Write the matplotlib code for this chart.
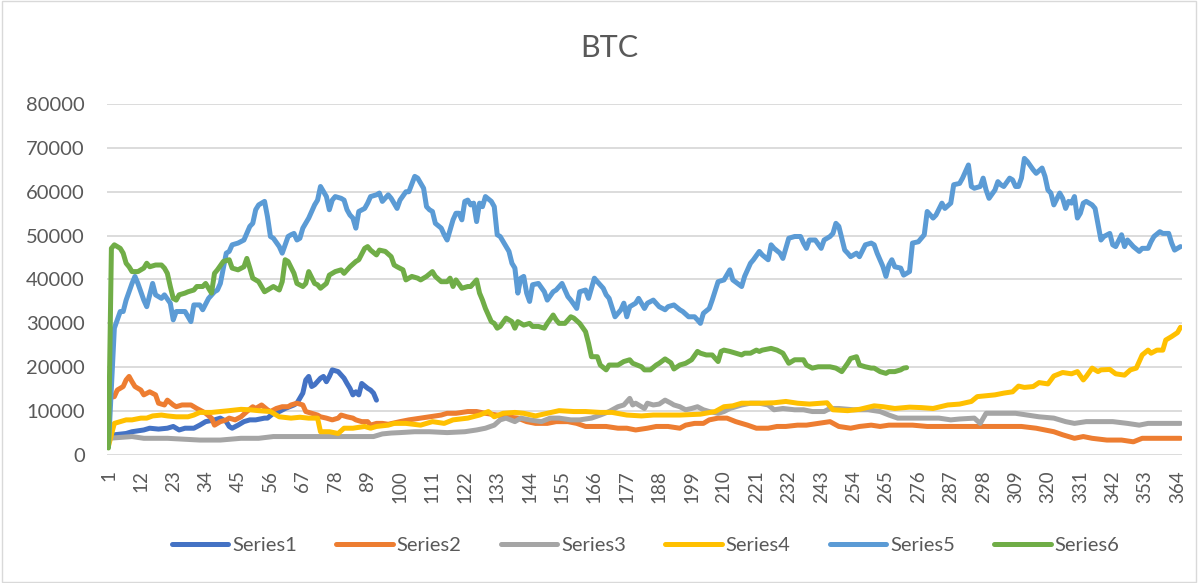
import numpy as np
import matplotlib.pyplot as plt

# (day, value) pairs
series1 = [(1, 4300), (3, 4600), (7, 4900), (9, 5300), (13, 5700), (15, 6100), (18, 5900), (21, 6100),
           (23, 6500), (25, 5700), (27, 6100), (30, 6100), (32, 6800), (34, 7600), (37, 8000), (39, 8400),
           (41, 7600), (42, 6500), (43, 6100), (45, 6800), (47, 7600), (49, 8000), (51, 8000), (54, 8400),
           (55, 8400), (57, 9500), (59, 9900), (61, 10600), (64, 11400), (65, 11800), (67, 14100),
           (68, 17100), (69, 17900), (70, 15600), (71, 16000), (73, 17500), (74, 17900), (75, 16700),
           (76, 17900), (77, 19400), (79, 19000), (81, 17500), (82, 16300), (83, 15200), (84, 13700),
           (85, 14400), (86, 13700), (87, 16300), (89, 15200), (90, 14800), (91, 14100), (92, 12500)]

series2 = [(1, 13000), (3, 13300), (4, 14800), (6, 15600), (7, 17100), (8, 17900), (9, 16700),
           (10, 15600), (12, 14800), (13, 13700), (15, 14400), (17, 13700), (18, 11800), (20, 11400),
           (21, 12500), (23, 11400), (24, 11000), (26, 11400), (29, 11400), (31, 10600), (33, 9900),
           (34, 9500), (36, 8400), (37, 6800), (39, 7600), (41, 8000), (42, 8400), (44, 8000),
           (46, 8700), (48, 9900), (50, 11000), (51, 10600), (53, 11400), (55, 10300), (56, 9900),
           (58, 10600), (60, 11000), (62, 11000), (63, 11400), (65, 11800), (67, 11400), (68, 9900),
           (70, 9500), (72, 9100), (73, 8700), (75, 8400), (77, 8000), (79, 8400), (80, 9100),
           (82, 8700), (84, 8400), (85, 8000), (87, 7600), (89, 7600), (90, 6800), (92, 7200),
           (94, 7200), (96, 7000), (100, 7600), (103, 8000), (107, 8400), (110, 8700), (114, 9100),
           (116, 9500), (119, 9500), (123, 9900), (126, 9900), (129, 9500), (133, 9100), (136, 8700),
           (140, 8400), (143, 7600), (146, 7200), (150, 7200), (153, 7600), (157, 7600), (160, 7200),
           (163, 6500), (167, 6500), (170, 6500), (174, 6100), (177, 6100), (180, 5700), (184, 6100),
           (187, 6500), (191, 6500), (195, 6100), (197, 6800), (200, 7200), (203, 7200), (205, 8000),
           (208, 8400), (211, 8400), (214, 7600), (218, 6800), (221, 6100), (225, 6100), (228, 6500),
           (231, 6500), (235, 6800), (238, 6800), (242, 7200), (246, 7600), (249, 6500), (253, 6100),
           (256, 6500), (260, 6800), (263, 6500), (266, 6800), (270, 6800), (274, 6800), (279, 6500),
           (283, 6500), (290, 6500), (297, 6500), (304, 6500), (311, 6500), (316, 6100), (319, 5700),
           (322, 5300), (325, 4600), (329, 3800), (332, 4200), (335, 3800), (340, 3400), (345, 3400),
           (349, 3000), (352, 3800), (357, 3800), (360, 3800), (365, 3800)]

series3 = [(1, 3800), (9, 4200), (13, 3800), (21, 3800), (32, 3400), (39, 3400), (46, 3800), (52, 3800),
           (57, 4200), (66, 4200), (75, 4200), (84, 4200), (91, 4200), (94, 4800), (97, 5000),
           (100, 5100), (105, 5300), (110, 5300), (116, 5100), (122, 5300), (126, 5700), (129, 6100),
           (132, 6800), (134, 8000), (136, 8400), (139, 7600), (141, 8400), (144, 8000), (148, 7600),
           (151, 8400), (154, 8400), (158, 8000), (161, 8000), (165, 8400), (168, 9100), (171, 9900),
           (174, 11000), (176, 11400), (178, 12900), (179, 11400), (180, 11800), (183, 10600),
           (184, 11800), (186, 11400), (188, 11600), (190, 12500), (192, 11800), (193, 11400),
           (195, 11000), (197, 10300), (199, 10600), (201, 11000), (203, 10300), (205, 9900),
           (208, 9500), (210, 9900), (212, 10600), (216, 11400), (219, 11800), (222, 11800),
           (225, 11400), (227, 10300), (230, 10600), (234, 10300), (237, 10300), (240, 9900),
           (244, 9900), (246, 10600), (249, 10600), (254, 10300), (259, 10300), (263, 9900), (266, 9100),
           (269, 8400), (273, 8400), (279, 8400), (283, 8400), (287, 8000), (290, 8200), (295, 8400),
           (297, 7200), (299, 9500), (304, 9500), (309, 9500), (313, 9100), (317, 8700), (322, 8400),
           (326, 7600), (329, 7200), (333, 7600), (338, 7600), (342, 7600), (347, 7200), (351, 6800),
           (354, 7200), (358, 7200), (365, 7200)]

series4 = [(1, 2000), (3, 7200), (5, 7600), (7, 8000), (9, 8000), (12, 8400), (14, 8400), (16, 8900),
           (19, 9100), (21, 8900), (24, 8700), (28, 8700), (30, 9100), (32, 9700), (36, 9700), (39, 9900),
           (42, 10100), (46, 10400), (49, 10300), (52, 10100), (56, 9900), (59, 8700), (63, 8400),
           (66, 8600), (69, 8400), (72, 8400), (73, 5300), (76, 5300), (79, 4900), (81, 6100), (84, 6100),
           (88, 6500), (90, 6100), (92, 6500), (96, 6800), (98, 7200), (102, 7200), (107, 6800),
           (111, 7600), (115, 7200), (118, 8000), (123, 8400), (127, 9100), (130, 9900), (132, 8700),
           (135, 9500), (139, 9700), (142, 9500), (146, 8900), (150, 9500), (154, 10100), (159, 9900),
           (163, 9900), (168, 9700), (172, 9700), (177, 9100), (182, 8900), (186, 9100), (191, 9100),
           (195, 9100), (202, 9300), (207, 9900), (210, 11000), (213, 11200), (216, 11800), (219, 11800),
           (222, 11800), (227, 11900), (231, 12200), (235, 11800), (239, 11600), (245, 11900),
           (247, 10300), (252, 10100), (256, 10400), (261, 11200), (264, 11000), (268, 10600),
           (273, 10900), (277, 10800), (281, 10600), (286, 11400), (290, 11600), (294, 12200),
           (296, 13300), (299, 13500), (302, 13700), (305, 14100), (308, 14400), (310, 15700),
           (312, 15400), (315, 15600), (317, 16500), (320, 16200), (322, 18000), (325, 18800),
           (328, 18500), (330, 19000), (332, 17100), (333, 17900), (335, 19800), (337, 19000),
           (338, 19400), (341, 19500), (343, 18500), (346, 18200), (348, 19400), (350, 19800),
           (352, 22800), (354, 23900), (355, 23200), (357, 23900), (359, 23900), (360, 26200),
           (362, 27000), (364, 27900), (365, 29100)]

series5 = [(1, 2000), (3, 28900), (4, 30800), (5, 32700), (6, 32700), (7, 35300), (9, 39100), (10, 40700),
           (11, 39100), (13, 35300), (14, 33800), (16, 39100), (17, 36500), (19, 35700), (20, 36500),
           (22, 34600), (23, 30800), (24, 32700), (27, 32700), (29, 30400), (30, 34200), (32, 34200),
           (33, 33100), (35, 35700), (37, 37200), (38, 37600), (39, 39100), (41, 46000), (42, 46400),
           (43, 47900), (45, 48300), (47, 49000), (49, 52100), (50, 52800), (51, 55900), (52, 57000),
           (54, 57800), (55, 54300), (56, 49800), (57, 49400), (59, 47500), (60, 46000), (62, 49800),
           (63, 50200), (64, 50500), (65, 49000), (66, 49400), (67, 51700), (69, 54000), (71, 57000),
           (72, 58100), (73, 61200), (75, 58900), (76, 55900), (77, 58100), (78, 58900), (80, 58500),
           (81, 58100), (82, 55900), (83, 54700), (84, 54000), (85, 51700), (86, 55500), (88, 56200),
           (89, 57400), (90, 58900), (92, 59300), (93, 59700), (94, 57800), (96, 59300), (97, 58500),
           (99, 56200), (100, 58100), (102, 60000), (103, 60000), (105, 63500), (106, 63100),
           (108, 60800), (109, 56600), (110, 55900), (111, 55500), (112, 52800), (114, 51700),
           (115, 50200), (116, 49000), (118, 53600), (119, 55100), (120, 55100), (121, 53600),
           (122, 57800), (123, 58100), (124, 57000), (125, 57400), (126, 53200), (127, 57400),
           (128, 56600), (129, 58900), (131, 57800), (132, 56600), (133, 50200), (134, 49800),
           (136, 47500), (137, 46400), (138, 43700), (139, 42600), (140, 36900), (141, 40300),
           (142, 40700), (143, 36900), (144, 35000), (145, 38800), (147, 39100), (149, 37200),
           (150, 35300), (152, 37200), (153, 37600), (155, 39100), (157, 36100), (158, 35300),
           (160, 33400), (161, 37200), (163, 37600), (164, 35700), (166, 40300), (167, 39500),
           (169, 38000), (170, 36500), (171, 35700), (173, 31500), (175, 33100), (176, 34600),
           (177, 31500), (178, 33800), (180, 34600), (181, 35700), (183, 33400), (184, 34600),
           (186, 35300), (188, 33800), (190, 33100), (191, 33800), (193, 34200), (195, 33100),
           (196, 32700), (198, 31500), (200, 31500), (201, 30800), (202, 30000), (203, 32300),
           (205, 33400), (206, 35300), (208, 39500), (210, 39900), (212, 42200), (213, 39900),
           (216, 38400), (217, 40700), (219, 43700), (220, 44500), (222, 46400), (223, 45600),
           (225, 44500), (226, 47900), (227, 47100), (229, 46000), (230, 44800), (231, 47100),
           (232, 49400), (234, 49800), (236, 49800), (237, 48300), (238, 47100), (239, 49000),
           (241, 49000), (243, 47100), (244, 49000), (246, 49800), (247, 50500), (248, 52800),
           (249, 52100), (251, 46700), (252, 46000), (253, 45200), (255, 46000), (256, 45200),
           (258, 47900), (260, 48300), (261, 47900), (262, 46000), (264, 42900), (265, 40700),
           (266, 43300), (267, 44500), (268, 42900), (270, 42600), (271, 41000), (273, 41800),
           (274, 48300), (276, 48600), (278, 50200), (279, 55500), (281, 54000), (282, 54700),
           (284, 57400), (285, 56200), (287, 57400), (288, 61600), (290, 61900), (291, 63100),
           (293, 66100), (294, 61200), (295, 60800), (297, 61200), (298, 63100), (299, 60400),
           (300, 58500), (302, 60400), (303, 62300), (304, 61600), (305, 61200), (307, 63100),
           (308, 62700), (309, 61200), (310, 61200), (311, 63100), (312, 67600), (313, 66900),
           (315, 65000), (316, 64200), (318, 65400), (319, 63500), (320, 60400), (321, 59700),
           (322, 57000), (324, 59700), (325, 58500), (326, 56200), (327, 57800), (328, 57400),
           (329, 58900), (330, 54000), (331, 55100), (332, 57400), (333, 57800), (335, 57000),
           (336, 56200), (338, 49000), (339, 49800), (341, 50500), (342, 47900), (343, 47500),
           (345, 50200), (346, 47500), (347, 49000), (349, 47500), (351, 46400), (352, 47100),
           (354, 47100), (355, 48600), (356, 49800), (358, 50900), (359, 50500), (361, 50500),
           (362, 48300), (363, 46700), (365, 47500)]

series6 = [(1, 1600), (2, 47100), (3, 47900), (5, 47100), (6, 46000), (7, 43700), (8, 42900), (9, 41800),
           (11, 41800), (13, 42600), (14, 43700), (15, 42900), (17, 43300), (19, 43300), (20, 42600),
           (21, 41400), (22, 38400), (23, 35700), (24, 35300), (25, 36500), (27, 36900), (28, 37200),
           (30, 37600), (31, 38400), (33, 38400), (34, 39100), (36, 36900), (37, 41400), (38, 42200),
           (40, 44100), (42, 44500), (43, 42600), (45, 42200), (47, 42900), (48, 44800), (49, 42600),
           (50, 40300), (52, 39500), (54, 37200), (55, 37600), (57, 38400), (59, 37600), (60, 39500),
           (61, 44500), (62, 44100), (64, 41400), (65, 39100), (67, 38400), (68, 39100), (69, 41800),
           (71, 39100), (72, 38800), (73, 38000), (75, 39100), (76, 41000), (78, 41800), (80, 42200),
           (81, 41400), (83, 42900), (85, 44100), (86, 44500), (88, 47100), (89, 47500), (90, 46700),
           (92, 45600), (93, 46700), (95, 46400), (97, 45200), (98, 43300), (99, 42900), (101, 42200),
           (102, 39900), (104, 40700), (106, 40300), (107, 39900), (109, 40700), (111, 41800),
           (112, 40700), (114, 39500), (116, 39500), (117, 40300), (118, 38400), (119, 39900),
           (121, 38000), (123, 38400), (124, 38400), (126, 39900), (127, 36900), (128, 35300),
           (129, 33400), (131, 30400), (132, 30000), (133, 28900), (134, 29300), (136, 31200),
           (138, 30400), (139, 28900), (140, 30400), (142, 29600), (144, 30000), (145, 29300),
           (147, 29300), (149, 28900), (150, 30000), (152, 31900), (153, 30800), (154, 30000),
           (156, 30000), (158, 31500), (159, 31200), (161, 30000), (163, 28100), (164, 25500),
           (165, 22400), (167, 22400), (168, 20500), (170, 19400), (171, 20500), (172, 20500),
           (174, 20500), (176, 21300), (178, 21700), (179, 20900), (182, 20100), (183, 19400),
           (185, 19400), (187, 20500), (188, 20900), (190, 21900), (192, 21000), (193, 19600),
           (195, 20500), (197, 20900), (199, 21700), (201, 23600), (202, 23200), (204, 22800),
           (206, 22800), (208, 21300), (209, 23600), (210, 23900), (212, 23600), (214, 23200),
           (216, 22800), (217, 23200), (219, 23200), (221, 23900), (222, 23600), (223, 23900),
           (226, 24300), (228, 23900), (230, 23200), (232, 20900), (234, 21700), (235, 21700),
           (237, 21700), (238, 20500), (240, 19800), (242, 20100), (244, 20100), (246, 20100),
           (248, 19800), (250, 19000), (252, 20900), (253, 22000), (255, 22400), (256, 20500),
           (258, 20100), (260, 19800), (261, 19800), (263, 19000), (265, 18600), (266, 19000),
           (268, 19000), (270, 19400), (271, 19800), (272, 19900)]

series_names = ["Series1", "Series2", "Series3", "Series4", "Series5", "Series6"]
colors = ["#4472C4", "#ED7D31", "#A5A5A5", "#FFC000", "#5B9BD5", "#70AD47"]
xtick_days = list(range(1, 366, 11))
yticks = list(range(0, 80001, 10000))

plt.rcParams['font.family'] = ['Lato', 'DejaVu Sans']
text_color = "#595959"

fig = plt.figure(figsize=(11.98, 5.83), dpi=100)
ax = fig.add_axes([0.0893, 0.2196, 0.8973, 0.602])

all_series = [series1, series2, series3, series4, series5, series6]
for data, name, c in zip(all_series, series_names, colors):
    d, v = zip(*data)
    ax.plot(d, v, color=c, lw=3.6, label=name, solid_joinstyle='round', solid_capstyle='round')

ax.set_xlim(0.5, 365.5)
ax.set_ylim(0, 80000)
ax.set_yticks(yticks)
ax.set_yticklabels([str(t) for t in yticks], fontsize=14.5, color=text_color)
ax.set_xticks(xtick_days)
ax.set_xticklabels([str(t) for t in xtick_days], rotation=90, fontsize=13.5, color=text_color)
ax.tick_params(axis='y', length=0, pad=16)
ax.tick_params(axis='x', length=0, pad=11)
ax.grid(axis='y', color="#D9D9D9", lw=1.3)
ax.set_axisbelow(True)
for s in ax.spines.values():
    s.set_visible(False)

fig.text(0.509, 0.918, "BTC", ha='center', va='center', fontsize=22, color=text_color)

fig.legend(loc='center', bbox_to_anchor=(0.539, 0.065), ncol=6, frameon=False,
           fontsize=14.5, handlelength=2.8, columnspacing=1.95, handletextpad=0.2,
           labelcolor=text_color)

# chart border
fig.patches.append(plt.Rectangle((0.002, 0.002), 0.996, 0.996, transform=fig.transFigure,
                                 fill=False, edgecolor="#D9D9D9", lw=1))

fig.savefig("out.png", dpi=100)
